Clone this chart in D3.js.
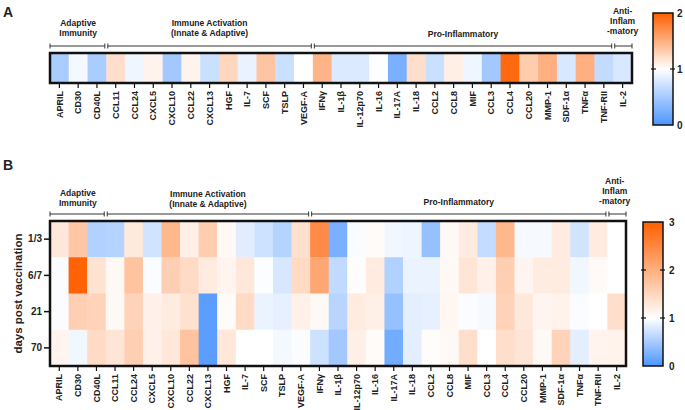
<!DOCTYPE html>
<html>
<head>
<meta charset="utf-8">
<script src="https://cdn.jsdelivr.net/npm/d3@7"></script>
<style>
body{margin:0;background:#fff;}
svg text{font-family:"Liberation Sans",Arial,sans-serif;font-weight:bold;fill:#222;}
</style>
</head>
<body>
<div id="chart"></div>
<script>
// cytokine names (columns), same for both panels
var cytokines = ["APRIL","CD30","CD40L","CCL11","CCL24","CXCL5","CXCL10","CCL22","CXCL13","HGF","IL-7","SCF","TSLP","VEGF-A",
  "IFNγ","IL-1β","IL-12p70","IL-16","IL-17A","IL-18","CCL2","CCL8","MIF","CCL3","CCL4","CCL20","MMP-1","SDF-1α","TNFα","TNF-RII","IL-2"];

// group brackets: label lines, first and last column
var groupNames = [["Adaptive","Immunity"],["Immune Activation","(Innate & Adaptive)"],["Pro-Inflammatory"],["Anti-","Inflam","-matory"]];
var groupStart = [0,3,14,30];
var groupEnd = [2,13,29,30];

// panel A: one row
var valuesA = [0.52,0.94,0.52,1.2,0.91,1.07,0.48,1.07,0.7,1.25,0.88,1.37,0.7,1.0,
  1.47,0.8,0.8,0.99,0.25,1.2,0.7,1.1,0.91,0.48,1.94,1.32,1.5,0.78,1.5,0.66,0.78];

// panel B: days post vaccination
var days = ["1/3","6/7","21","70"];
var valuesB = [
  [1.29,1.7,0.56,0.58,1.28,0.74,1.9,1.19,1.63,1.08,0.83,0.72,0.58,1.39,2.45,0.25,0.97,1.05,0.92,0.9,0.41,1.07,1.25,0.67,1.9,0.95,0.95,1.25,0.74,1.25,1.0],
  [0.97,2.95,1.35,1.07,1.75,0.97,1.6,1.45,1.25,1.13,1.3,0.98,0.77,1.45,2.1,0.65,1.03,1.25,0.56,0.89,0.89,1.07,1.33,1.17,1.6,1.12,1.24,1.24,0.92,1.06,1.0],
  [0.97,1.6,1.55,1.07,1.55,1.17,1.24,1.38,0.08,1.05,1.45,0.89,0.86,1.18,1.07,0.6,1.25,1.19,0.41,0.84,0.86,1.1,0.97,0.95,1.55,1.27,1.12,1.15,0.97,1.0,1.4],
  [1.13,0.92,1.45,1.33,1.6,1.17,1.3,1.75,0.08,1.3,1.0,1.0,0.94,0.97,0.72,0.48,1.19,1.05,0.21,0.84,1.03,1.07,1.4,1.0,1.4,1.33,1.07,1.55,0.84,1.13,1.15]
];
var ticksA = [0,1,2];
var ticksB = [0,1,2,3];

var blue = "#4d96ff", orange = "#ff5f00";

var svg = d3.select("#chart").append("svg").attr("width",685).attr("height",410);
var defs = svg.append("defs");

function panel(opt){
  var g = svg.append("g");
  var x = d3.scaleBand().domain(d3.range(cytokines.length)).range([opt.x0,opt.x1]);
  var y = d3.scaleBand().domain(opt.rows).range([opt.y0,opt.y1]);
  var maxV = d3.max(opt.ticks);
  var color = d3.scaleLinear().domain([0,1,maxV]).range([blue,"#ffffff",orange]).clamp(true);

  var cells = [];
  opt.values.forEach(function(row,r){
    row.forEach(function(v,c){ cells.push({r:opt.rows[r],c:c,v:v}); });
  });
  g.selectAll("rect.cell").data(cells).enter().append("rect")
    .attr("class","cell")
    .attr("x",d=>x(d.c)).attr("y",d=>y(d.r))
    .attr("width",x.bandwidth()+0.5).attr("height",y.bandwidth()+0.5)
    .attr("fill",d=>color(d.v));

  g.append("rect").attr("x",opt.x0).attr("y",opt.y0)
    .attr("width",opt.x1-opt.x0).attr("height",opt.y1-opt.y0)
    .attr("fill","none").attr("stroke","#111").attr("stroke-width",2.5);

  // x axis
  var ax = d3.axisBottom(x).tickSize(4).tickSizeOuter(0).tickFormat(i=>cytokines[i]);
  var gx = g.append("g").attr("transform","translate(0,"+(opt.y1+1)+")").call(ax);
  gx.select(".domain").remove();
  gx.selectAll(".tick line").attr("stroke","#111").attr("stroke-width",1.2);
  gx.selectAll(".tick text")
    .attr("transform","rotate(-90)")
    .attr("x",-7).attr("y",0).attr("dy","0.35em")
    .style("text-anchor","end").style("font-size","9px").attr("fill","#222");
  gx.attr("font-family",null).attr("font-size",null);

  // y axis (panel B only)
  if(opt.rows.length>1){
    var ay = d3.axisLeft(y).tickSize(5).tickSizeOuter(0);
    var gy = g.append("g").attr("transform","translate("+(opt.x0-1)+",0)").call(ay);
    gy.select(".domain").remove();
    gy.selectAll(".tick line").attr("stroke","#111").attr("stroke-width",1.5);
    gy.selectAll(".tick text").attr("x",-7).style("font-size","10px").attr("fill","#222");
    gy.attr("font-family",null).attr("font-size",null);
    g.append("text").attr("transform","translate(22,"+((opt.y0+opt.y1)/2)+") rotate(-90)")
      .attr("text-anchor","middle").style("font-size","11.5px").text("days post vaccination");
  }

  // group brackets
  groupNames.forEach(function(names,k){
    var a = x(groupStart[k]) + (k>0?1.5:0);
    var b = x(groupEnd[k]) + x.bandwidth() - (k<groupNames.length-1?1.5:0);
    var by = opt.bracketY;
    g.append("line").attr("x1",a).attr("x2",b).attr("y1",by).attr("y2",by).attr("stroke","#333").attr("stroke-width",1);
    [a,b].forEach(function(px){
      g.append("line").attr("x1",px).attr("x2",px).attr("y1",by-2.5).attr("y2",by+2.5).attr("stroke","#333").attr("stroke-width",1);
    });
    var cx = (x(groupStart[k]) + x(groupEnd[k]) + x.bandwidth())/2 + (opt.groupDx[k]||0);
    var lineH = 10;
    var ty = opt.groupY[k];
    var t = g.append("text").attr("text-anchor","middle").style("font-size","8.5px");
    names.forEach(function(n,i){
      t.append("tspan").attr("x",cx).attr("y",ty+i*lineH).text(n);
    });
  });

  // colorbar
  var gid = "grad"+opt.id;
  var grad = defs.append("linearGradient").attr("id",gid).attr("x1",0).attr("x2",0).attr("y1",1).attr("y2",0);
  var cs = d3.scaleLinear().domain([0,maxV]).range([opt.cbY1,opt.cbY0]);
  [0,1,maxV].forEach(function(v){
    grad.append("stop").attr("offset",v/maxV).attr("stop-color",color(v));
  });
  g.append("rect").attr("x",opt.cbX).attr("y",opt.cbY0).attr("width",20).attr("height",opt.cbY1-opt.cbY0)
    .attr("fill","url(#"+gid+")").attr("stroke","#111").attr("stroke-width",1.5);
  var inner = opt.ticks.filter(v=>v>0&&v<maxV);
  inner.forEach(function(v){
    g.append("line").attr("x1",opt.cbX-2).attr("x2",opt.cbX+3).attr("y1",cs(v)).attr("y2",cs(v)).attr("stroke","#111").attr("stroke-width",1.2);
    g.append("line").attr("x1",opt.cbX+17).attr("x2",opt.cbX+22).attr("y1",cs(v)).attr("y2",cs(v)).attr("stroke","#111").attr("stroke-width",1.2);
  });
  var ac = d3.axisRight(cs).tickValues(opt.ticks).tickFormat(d3.format("d")).tickSize(0).tickPadding(opt.cbPad);
  var gc = g.append("g").attr("transform","translate("+(opt.cbX+20)+",0)").call(ac);
  gc.select(".domain").remove();
  gc.selectAll(".tick text").style("font-size","10px").attr("fill","#222");
  gc.attr("font-family",null).attr("font-size",null);

  svg.append("text").attr("x",3).attr("y",opt.letterY).style("font-size","14px").text(opt.letter);
}

panel({id:"A",letter:"A",letterY:17,rows:["A"],values:[valuesA],ticks:ticksA,
  x0:50,x1:632,y0:53,y1:83,bracketY:46,groupY:[26,26,37,14],groupDx:[0,0,0,0],
  cbX:653,cbY0:13,cbY1:125,cbPad:4});

panel({id:"B",letter:"B",letterY:170,rows:days,values:valuesB,ticks:ticksB,
  x0:50,x1:626,y0:221,y1:366,bracketY:214,groupY:[196,197,205,184],groupDx:[0,0,0,-2],
  cbX:643,cbY0:222,cbY1:366,cbPad:6});
</script>
</body>
</html>
